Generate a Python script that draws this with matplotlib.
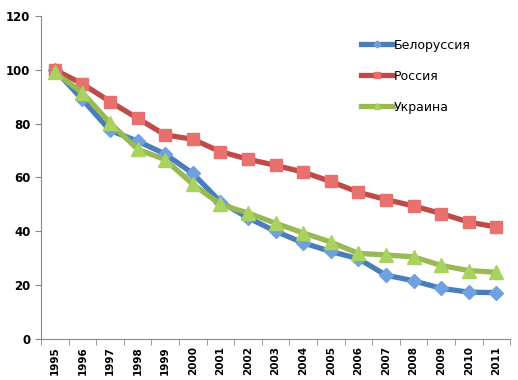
import matplotlib
matplotlib.use("Agg")
import matplotlib.pyplot as plt
import numpy as np

years = [str(y) for y in range(1995, 2012)]
belarus = [100, 89, 77.5, 73.5, 68.7, 61.5, 51, 45, 40, 35.7, 32.5, 29.8, 23.7, 21.6, 18.8, 17.4, 17.2]
russia = [100, 94.8, 88.2, 82, 75.8, 74.2, 69.6, 66.8, 64.5, 62, 58.5, 54.5, 51.8, 49.4, 46.6, 43.4, 41.6]
ukraine = [99, 91.5, 80.3, 70.5, 66.6, 57.5, 50, 46.8, 43, 39.4, 36, 31.8, 31.2, 30.5, 27.3, 25.4, 24.8]

series = [
    ("Белоруссия", belarus, "#4A7EBB", "D", "#6FA0E0", 7),
    ("Россия", russia, "#BE4B48", "s", "#E8706E", 9),
    ("Украина", ukraine, "#98B954", "^", "#A9D35E", 10),
]

fig = plt.figure(figsize=(5.18, 3.8), dpi=100)
ax = fig.add_axes([0.079, 0.108, 0.906, 0.85])

x = np.arange(len(years))
for name, vals, col, mk, mcol, ms in series:
    ax.plot(x, vals, color=col, lw=3.8, marker=mk, ms=ms, mfc=mcol, mec=mcol,
            label=name, solid_joinstyle="round")

ax.set_xlim(-0.5, len(years) - 0.5)
ax.set_ylim(0, 120)
ax.set_yticks(range(0, 121, 20))
ax.set_xticks(x)
ax.set_xticklabels(years, rotation=90, fontsize=7.5, fontweight="bold")
ax.set_xticks(np.arange(-0.5, len(years), 1), minor=True)
ax.tick_params(axis="x", which="major", length=0, pad=5)
ax.tick_params(axis="x", which="minor", length=4, color="#888888")
ax.tick_params(axis="y", length=4, color="#888888", labelsize=8.5)
for lab in ax.get_yticklabels():
    lab.set_fontweight("bold")

for s in ["top", "right"]:
    ax.spines[s].set_visible(False)
for s in ["left", "bottom"]:
    ax.spines[s].set_color("#888888")

ax.legend(loc="upper left", bbox_to_anchor=(0.659, 0.965), frameon=False,
          fontsize=9, handlelength=2.5, handletextpad=0.1, labelspacing=1.45,
          markerscale=0.5)

fig.savefig("out.png", dpi=100)
